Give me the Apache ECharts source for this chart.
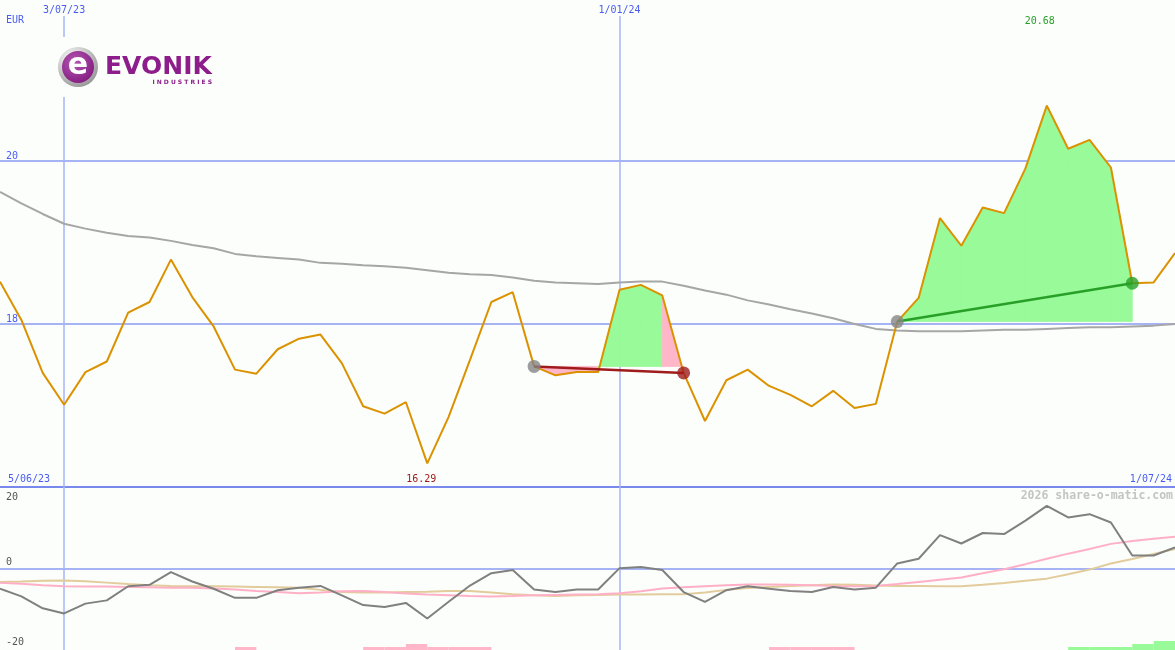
<!DOCTYPE html>
<html>
<head>
<meta charset="utf-8">
<script src="https://cdn.jsdelivr.net/npm/echarts@6.0.0/dist/echarts.min.js"></script>
<style>
  html, body { margin: 0; padding: 0; background: #fbfefb; }
  #chart { width: 1175px; height: 650px; }
</style>
</head>
<body>
<div id="chart"></div>
<script>
// ---- data (weekly) ----
const dates = ['12/06/23','19/06/23','26/06/23','3/07/23','10/07/23','17/07/23','24/07/23','31/07/23',
  '7/08/23','14/08/23','21/08/23','28/08/23','4/09/23','11/09/23','18/09/23','25/09/23','2/10/23','9/10/23',
  '16/10/23','23/10/23','30/10/23','6/11/23','13/11/23','20/11/23','27/11/23','4/12/23','11/12/23','18/12/23',
  '25/12/23','1/01/24','8/01/24','15/01/24','22/01/24','29/01/24','5/02/24','12/02/24','19/02/24','26/02/24',
  '4/03/24','11/03/24','18/03/24','25/03/24','1/04/24','8/04/24','15/04/24','22/04/24','29/04/24','6/05/24',
  '13/05/24','20/05/24','27/05/24','3/06/24','10/06/24','17/06/24','24/06/24','1/07/24'];

const price = [18.52,18.05,17.40,17.01,17.41,17.54,18.14,18.27,18.79,18.33,17.97,17.44,17.39,17.69,17.82,
  17.87,17.52,16.99,16.90,17.04,16.29,16.86,17.56,18.27,18.39,17.48,17.37,17.41,17.41,18.42,18.48,18.35,
  17.40,16.81,17.31,17.44,17.24,17.13,16.99,17.18,16.97,17.02,18.03,18.32,19.30,18.96,19.43,19.36,19.91,
  20.68,20.15,20.26,19.92,18.50,18.51,18.87];

const movingAvg = [19.62,19.48,19.35,19.23,19.17,19.12,19.08,19.06,19.02,18.97,18.93,18.86,18.83,18.81,18.79,
  18.75,18.74,18.72,18.71,18.69,18.66,18.63,18.61,18.60,18.57,18.53,18.51,18.50,18.49,18.51,18.52,18.52,
  18.47,18.41,18.36,18.29,18.24,18.18,18.13,18.07,18.00,17.94,17.92,17.91,17.91,17.91,17.92,17.93,17.93,
  17.94,17.95,17.96,17.96,17.97,17.98,18.00];

const oscGray = [-5.6,-7.7,-11.0,-12.4,-9.7,-8.8,-4.9,-4.5,-1.0,-3.6,-5.6,-8.1,-8.1,-6.0,-5.3,-4.8,-7.4,
  -10.1,-10.6,-9.5,-13.8,-9.2,-4.7,-1.3,-0.4,-5.8,-6.5,-5.8,-5.8,0.1,0.4,-0.4,-6.5,-9.2,-6.0,-4.9,-5.6,
  -6.2,-6.5,-5.1,-5.8,-5.3,1.4,2.7,9.2,6.9,9.8,9.5,13.2,17.3,14.1,15.0,12.7,3.6,3.6,5.8];

const oscPink = [-3.9,-4.2,-4.6,-4.9,-5.0,-5.0,-5.1,-5.2,-5.3,-5.3,-5.5,-5.8,-6.2,-6.5,-6.8,-6.6,-6.3,
  -6.2,-6.5,-6.9,-7.2,-7.4,-7.6,-7.7,-7.6,-7.4,-7.3,-7.2,-7.1,-6.8,-6.3,-5.5,-5.2,-4.9,-4.6,-4.4,-4.4,
  -4.5,-4.6,-4.8,-4.9,-4.8,-4.3,-3.7,-3.1,-2.5,-1.3,-0.2,1.2,2.7,4.1,5.4,6.8,7.6,8.2,8.8];

const oscTan = [-3.7,-3.6,-3.4,-3.3,-3.5,-3.9,-4.3,-4.6,-4.8,-4.9,-4.9,-5.0,-5.1,-5.2,-5.3,-5.9,-6.5,
  -6.6,-6.6,-6.5,-6.4,-6.2,-6.2,-6.6,-7.1,-7.4,-7.6,-7.4,-7.3,-7.2,-7.2,-7.1,-7.1,-6.6,-5.9,-5.4,-5.1,
  -4.8,-4.6,-4.4,-4.5,-4.7,-4.8,-4.8,-4.9,-4.9,-4.5,-4.0,-3.4,-2.8,-1.6,-0.3,1.4,2.6,4.0,5.4];

// weekly signal bars (one per interval between two dates)
const histPink = [0,0,0,0,0,0,0,0,0,0,0,1,0,0,0,0,0,1,1,2,1,1,1,0,0,0,0,0,0,0,0,0,0,0,0,0,1,1,1,1,
  0,0,0,0,0,0,0,0,0,0,0,0,0,0,0];
const histGreen = [0,0,0,0,0,0,0,0,0,0,0,0,0,0,0,0,0,0,0,0,0,0,0,0,0,0,0,0,0,0,0,0,0,0,0,0,0,0,0,0,
  0,0,0,0,0,0,0,0,0,0,1,1,1,2,3];

const trades = [ { entry: 25, exit: 32 }, { entry: 42, exit: 53 } ];
const gridDateIdx = [3, 29];
const priceTicks = [18, 20];
const oscTicks = [20, 0, -20];
const cornerLabels = { start: '5/06/23', end: '1/07/24', unit: 'EUR' };
const minLabel = '16.29', maxLabel = '20.68';
const minIdx = 20, maxIdx = 49;

// ---- styles ----
const BG = '#fbfefb';
const BLUE_TXT = '#4a5cf0';
const GRID_LIGHT = '#a6b4f5';
const GRID_DARK = '#7888ec';
const MONO = 'DejaVu Sans Mono';
const PINK_FILL = '#ffb6c8';
const GREEN_FILL = '#98fa98';

// fill segments built from price + trades
const segs = [];
trades.forEach(t => {
  const e = price[t.entry];
  for (let i = t.entry; i < t.exit; i++) {
    segs.push([i, price[i], price[i + 1], e, price[i + 1] >= e ? 1 : 0]);
  }
});

function chartX(i) { return i * 1175 / (dates.length - 1); }

const chart = echarts.init(document.getElementById('chart'), null, { renderer: 'canvas' });

const isGridIdx = (i) => gridDateIdx.indexOf(i) >= 0;

const graphicEls = [
  // logo background
  { type: 'rect', z: 50, shape: { x: 55, y: 37, width: 162, height: 60 }, style: { fill: BG } },
  { type: 'circle', z: 51, shape: { cx: 78, cy: 67, r: 20 },
    style: { fill: new echarts.graphic.RadialGradient(0.35, 0.3, 0.85, [
      { offset: 0, color: '#ffffff' }, { offset: 1, color: '#8a8a8a' }]) } },
  { type: 'circle', z: 52, shape: { cx: 78, cy: 67, r: 16 },
    style: { fill: new echarts.graphic.RadialGradient(0.4, 0.35, 0.8, [
      { offset: 0, color: '#b458b2' }, { offset: 1, color: '#7c1279' }]) } },
  { type: 'text', z: 53, style: { text: 'e', x: 78, y: 66, align: 'center', verticalAlign: 'middle',
      font: 'bold 30px "DejaVu Sans"', fill: '#ffffff' } },
  { type: 'text', z: 53, style: { text: 'EVONIK', x: 105, y: 67.5, verticalAlign: 'middle',
      font: 'bold 25px "DejaVu Sans"', fill: '#8c1d8a' } },
  { type: 'text', z: 53, style: { text: 'I N D U S T R I E S', x: 212, y: 82, align: 'right', verticalAlign: 'middle',
      font: 'bold 6px "DejaVu Sans"', fill: '#8c1d8a' } },
  // texts
  { type: 'text', z: 20, style: { text: cornerLabels.unit, x: 6, y: 20, verticalAlign: 'middle',
      font: '10px "' + MONO + '"', fill: BLUE_TXT } },
  { type: 'text', z: 20, style: { text: cornerLabels.start, x: 8, y: 479, verticalAlign: 'middle',
      font: '10px "' + MONO + '"', fill: BLUE_TXT } },
  { type: 'text', z: 20, style: { text: cornerLabels.end, x: 1172, y: 479, align: 'right', verticalAlign: 'middle',
      font: '10px "' + MONO + '"', fill: BLUE_TXT } },
  { type: 'text', z: 20, style: { text: '2026 share-o-matic.com', x: 1173, y: 496, align: 'right', verticalAlign: 'middle',
      font: 'bold 11.5px "' + MONO + '"', fill: '#c4c4c4' } },
  { type: 'text', z: 20, style: { text: minLabel, x: chartX(minIdx) - 6, y: 479, align: 'center', verticalAlign: 'middle',
      font: '10px "' + MONO + '"', fill: '#a01c1c' } },
  { type: 'text', z: 20, style: { text: maxLabel, x: chartX(maxIdx) - 7, y: 21, align: 'center', verticalAlign: 'middle',
      font: '10px "' + MONO + '"', fill: '#28a028' } }
];
const oscLabelY = [497, 562, 642];
oscTicks.forEach((v, k) => {
  graphicEls.push({ type: 'text', z: 20, style: { text: String(v), x: 6, y: oscLabelY[k], verticalAlign: 'middle',
    font: '10px "' + MONO + '"', fill: '#555555' } });
});

const option = {
  backgroundColor: BG,
  animation: false,
  grid: [
    { left: 0, right: 0, top: 16, height: 471 },
    { left: 0, right: 0, top: 487, height: 163 }
  ],
  xAxis: [
    { type: 'category', gridIndex: 0, data: dates, boundaryGap: false, position: 'top',
      axisLine: { show: false }, axisTick: { show: false },
      axisLabel: { interval: (i) => isGridIdx(i), color: BLUE_TXT, fontFamily: MONO, fontSize: 10, margin: 1 },
      splitLine: { show: true, interval: (i) => isGridIdx(i), lineStyle: { color: GRID_LIGHT, width: 1.5 } } },
    { type: 'category', gridIndex: 1, data: dates, boundaryGap: false,
      axisLine: { show: false }, axisTick: { show: false }, axisLabel: { show: false },
      splitLine: { show: true, interval: (i) => isGridIdx(i), lineStyle: { color: GRID_LIGHT, width: 1.5 } } },
    { type: 'category', gridIndex: 1, data: dates.slice(0, 55), boundaryGap: true, show: false }
  ],
  yAxis: [
    { type: 'value', gridIndex: 0, min: 16, max: 21.779, interval: 2,
      axisLine: { show: false }, axisTick: { show: false },
      axisLabel: { inside: true, verticalAlign: 'bottom', margin: 6, color: BLUE_TXT, fontFamily: MONO, fontSize: 10,
        formatter: (v) => priceTicks.indexOf(v) >= 0 ? String(v) : '' },
      splitLine: { lineStyle: { color: [GRID_DARK, GRID_LIGHT, GRID_LIGHT, 'rgba(0,0,0,0)'], width: 2 } } },
    { type: 'value', gridIndex: 1, min: -22.5, max: 22.5, interval: 22.5,
      axisLine: { show: false }, axisTick: { show: false }, axisLabel: { show: false },
      splitLine: { lineStyle: { color: ['rgba(0,0,0,0)', GRID_LIGHT, 'rgba(0,0,0,0)'], width: 2 } } },
    { type: 'value', gridIndex: 1, min: 0, max: 54.33, show: false, splitLine: { show: false } }
  ],
  graphic: { elements: graphicEls },
  series: [
    { type: 'custom', xAxisIndex: 0, yAxisIndex: 0, z: 1, data: segs, encode: { x: 0, y: [1, 2, 3] },
      renderItem: (params, api) => {
        const i = api.value(0);
        const p0 = api.coord([i, api.value(1)]);
        const p1 = api.coord([i + 1, api.value(2)]);
        const b1 = api.coord([i + 1, api.value(3)]);
        const b0 = api.coord([i, api.value(3)]);
        const c = api.value(4) ? GREEN_FILL : PINK_FILL;
        return { type: 'polygon', shape: { points: [p0, p1, b1, b0] },
          style: { fill: c, stroke: c, lineWidth: 0.8 } };
      } },
    { type: 'line', xAxisIndex: 0, yAxisIndex: 0, data: movingAvg, symbol: 'none', z: 2,
      lineStyle: { color: '#a6a6a6', width: 2 } },
    { type: 'line', xAxisIndex: 0, yAxisIndex: 0, data: price, symbol: 'none', z: 3,
      lineStyle: { color: '#dc9200', width: 2 } },
    { type: 'line', xAxisIndex: 0, yAxisIndex: 0, symbol: 'none', z: 4,
      data: [[trades[0].entry, price[trades[0].entry]], [trades[0].exit, price[trades[0].exit]]],
      lineStyle: { color: '#a01c1c', width: 2.5 } },
    { type: 'line', xAxisIndex: 0, yAxisIndex: 0, symbol: 'none', z: 4,
      data: [[trades[1].entry, price[trades[1].entry]], [trades[1].exit, price[trades[1].exit]]],
      lineStyle: { color: '#28a028', width: 2.5 } },
    { type: 'scatter', xAxisIndex: 0, yAxisIndex: 0, symbolSize: 13, z: 5,
      data: trades.map(t => [t.entry, price[t.entry]]), itemStyle: { color: '#858585' } },
    { type: 'scatter', xAxisIndex: 0, yAxisIndex: 0, symbolSize: 13, z: 5,
      data: [[trades[0].exit, price[trades[0].exit]]], itemStyle: { color: '#a01c1c' } },
    { type: 'scatter', xAxisIndex: 0, yAxisIndex: 0, symbolSize: 13, z: 5,
      data: [[trades[1].exit, price[trades[1].exit]]], itemStyle: { color: '#28a028' } },
    { type: 'line', xAxisIndex: 1, yAxisIndex: 1, data: oscTan, symbol: 'none', z: 2,
      lineStyle: { color: '#e2cc9c', width: 2 } },
    { type: 'line', xAxisIndex: 1, yAxisIndex: 1, data: oscPink, symbol: 'none', z: 2,
      lineStyle: { color: '#ffb0c6', width: 2 } },
    { type: 'line', xAxisIndex: 1, yAxisIndex: 1, data: oscGray, symbol: 'none', z: 3,
      lineStyle: { color: '#808080', width: 2 } },
    { type: 'bar', xAxisIndex: 2, yAxisIndex: 2, data: histPink, barWidth: '100%', barGap: '-100%',
      itemStyle: { color: PINK_FILL } },
    { type: 'bar', xAxisIndex: 2, yAxisIndex: 2, data: histGreen, barWidth: '100%', barGap: '-100%',
      itemStyle: { color: GREEN_FILL } }
  ]
};

chart.setOption(option);
</script>
</body>
</html>
